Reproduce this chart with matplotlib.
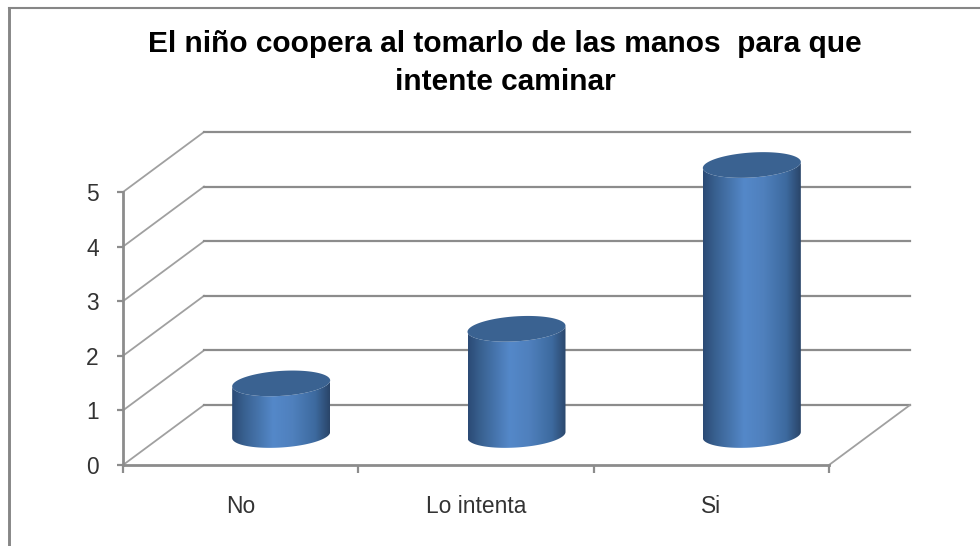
import numpy as np
import matplotlib
matplotlib.use("Agg")
import matplotlib.pyplot as plt
from matplotlib.colors import LinearSegmentedColormap
from matplotlib.path import Path

categories = ["No", "Lo intenta", "Si"]
values = [1, 2, 5]
y_ticks = [0, 1, 2, 3, 4, 5]
title = "El niño coopera al tomarlo de las manos  para que\nintente caminar"

W, H = 980, 546
plt.rcParams['font.family'] = ['Liberation Sans', 'DejaVu Sans']
GRID = "#8c8c8c"
DIAG = "#a0a0a0"

fig = plt.figure(figsize=(W / 100, H / 100), dpi=100)
# front plane of the fake 3d box, in pixels
left, right, bottom, top = 123, 829, 465, 192
ax = fig.add_axes([left / W, 1 - bottom / H, (right - left) / W, (bottom - top) / H])
ax.patch.set_alpha(0)
xs = (right - left) / 3.0    # pixels per category
ys = (bottom - top) / 5.0    # pixels per unit
depth_x = 81 / xs
depth_y = 60 / ys

# walls and floor
for v in y_ticks:
    ax.plot([0, depth_x], [v, v + depth_y], color=DIAG, lw=1.3, clip_on=False, zorder=1)
    ax.plot([depth_x, 3 + depth_x], [v + depth_y, v + depth_y], color=GRID, lw=1.6,
            clip_on=False, zorder=1)
ax.plot([3, 3 + depth_x], [0, depth_y], color=DIAG, lw=1.3, clip_on=False, zorder=1)

cmap = LinearSegmentedColormap.from_list("cyl", [
    (0.0, "#2b4a75"), (0.12, "#38608f"), (0.42, "#5488c9"), (0.62, "#4f80bd"),
    (0.85, "#3d6a9f"), (1.0, "#2a4569")])
grad = np.linspace(0, 1, 256).reshape(1, -1)

half_w = 49 / xs
ry = 12.5 / ys
tilt = 3.0 / ys
t = np.linspace(0, 2 * np.pi, 121)


def ellipse(cx, cy):
    return cx + half_w * np.cos(t), cy + ry * np.sin(t) + tilt * np.cos(t)


for i, v in enumerate(values):
    cx = i + 0.5 + depth_x / 2
    base = depth_y / 2
    topy = base - 3 / ys + v
    bx, by = ellipse(cx, base)
    tx, ty = ellipse(cx, topy)
    low = t >= np.pi
    order = np.argsort(bx[low])
    body_x = np.r_[bx[low][order], tx[low][order][::-1]]
    body_y = np.r_[by[low][order], ty[low][order][::-1]]
    im = ax.imshow(grad, cmap=cmap, aspect="auto", zorder=3,
                   extent=[cx - half_w, cx + half_w, base - 2 * ry, topy + 2 * ry])
    # keep the cylinder outline only, the axes box would cut the tall one
    im.set_clip_path(Path(np.c_[body_x, body_y]), transform=ax.transData)
    im.set_clip_box(fig.bbox)
    ax.fill(tx, ty, color="#3a6291", zorder=4, clip_on=False, lw=0)

ax.set_xlim(0, 3)
ax.set_ylim(0, 5)
for s in ["top", "right"]:
    ax.spines[s].set_visible(False)
for s in ["left", "bottom"]:
    ax.spines[s].set_color(GRID)
    ax.spines[s].set_linewidth(2)
    ax.spines[s].set_zorder(2)
ax.set_yticks(y_ticks)
ax.tick_params(axis="y", length=4.5, width=1.6, color=GRID, labelsize=16.4, pad=13, labelcolor="#333333")
ax.set_xticks([0, 1, 2, 3], labels=[])
ax.tick_params(axis="x", which="major", length=6, width=1.6, color=GRID)
ax.set_xticks([0.5, 1.5, 2.5], labels=categories, minor=True)
ax.tick_params(axis="x", which="minor", length=0, labelsize=16.4, pad=21.5, labelcolor="#333333")

fig.text(505 / W, 1 - 63 / H, title, ha="center", va="center", fontsize=21.5, fontweight="bold",
         linespacing=1.44, color="black")

# outer chart border, cut by the image edge
fig.add_artist(plt.Line2D([8.5 / W, 8.5 / W], [0, 1 - 7.5 / H], color="#868686", lw=2.1))
fig.add_artist(plt.Line2D([8.5 / W, 1], [1 - 8.3 / H, 1 - 8.3 / H], color="#868686", lw=1.5))

fig.savefig("out.png", dpi=100)
